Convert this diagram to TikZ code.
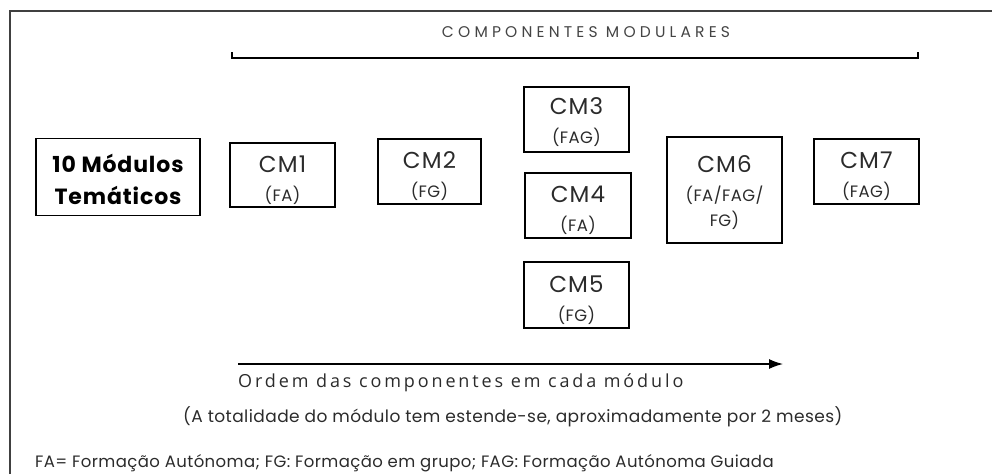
\documentclass[tikz,border=0pt]{standalone}
\usepackage{fontspec}
\setmainfont{Poppins}
\newfontfamily\orderfont[LetterSpace=16]{Open Sans}
\newfontfamily\titlefont[LetterSpace=27]{Poppins}
\newfontfamily\cmfont[LetterSpace=5]{Poppins}
\newfontfamily\modfont[LetterSpace=4]{Poppins}
\newfontfamily\notefont[LetterSpace=2.5]{Poppins}
\usetikzlibrary{arrows.meta}

\definecolor{inkgray}{HTML}{2B2B2B}
\definecolor{titlegray}{HTML}{444444}

\tikzset{
  cmbox/.style={draw, line width=1.3pt, align=center, inner sep=0pt,
    text=inkgray, font=\notefont\fontsize{16.5}{25}\selectfont},
  modbox/.style={draw, line width=1.3pt, align=center, inner sep=0pt,
    font=\modfont\bfseries\fontsize{22}{32}\selectfont},
  note/.style={text=inkgray, inner sep=0pt, anchor=west}
}

\newcommand{\cmlabel}[3][27pt]{{\cmfont\fontsize{23}{23}\selectfont\rule{0pt}{#1}#2}\\[4pt]#3}

\begin{document}
\begin{tikzpicture}[x=1pt,y=-1pt]
\useasboundingbox (0,0) rectangle (992,474);

% Frame
\draw[line width=2pt, black!75] (10,474) -- (10,11) -- (992,11);

% Bracket over the components
\draw[line width=1.2pt] (232,52) -- (232,58) -- (918,58) -- (918,52);
\node[text=titlegray, inner sep=0pt, font=\titlefont\fontsize{15.5}{15.5}\selectfont] (title) at (586,32) {COMPONENTES MODULARES};

% Boxes
\node[modbox, minimum width=164, minimum height=77] (mod) at (118,177) {\rule{0pt}{23pt}10 Módulos\\Temáticos};
\node[cmbox, minimum width=105, minimum height=64] (cm1) at (282.5,175) {\cmlabel{CM1}{(FA)}};
\node[cmbox, minimum width=103, minimum height=65] (cm2) at (429.5,171.5) {\cmlabel{CM2}{(FG)}};
\node[cmbox, minimum width=105, minimum height=65] (cm3) at (576.5,119.5) {\cmlabel[23pt]{CM3}{(FAG)}};
\node[cmbox, minimum width=106, minimum height=65] (cm4) at (578,205.5) {\cmlabel{CM4}{(FA)}};
\node[cmbox, minimum width=105, minimum height=66] (cm5) at (576.5,295) {\cmlabel{CM5}{(FG)}};
\node[cmbox, minimum width=115, minimum height=106] (cm6) at (724.5,190) {\cmlabel[22pt]{CM6}{(FA/FAG/\\FG)}};
\node[cmbox, minimum width=105, minimum height=65] (cm7) at (866.5,171.5) {\cmlabel{CM7}{(FAG)}};

% Order arrow
\coordinate (ostart) at (238,364);
\coordinate (oend) at (783,364);
\draw[line width=1.3pt, -{Latex[length=14pt,width=10pt]}] (ostart) -- (oend);
\node[note, font=\orderfont\fontsize{18}{18}\selectfont] (order) at (238,383) {Ordem das componentes em cada módulo};

% Notes
\node[note, font=\notefont\fontsize{17}{17}\selectfont] (span) at (183,417) {(A totalidade do módulo tem estende-se, aproximadamente por 2 meses)};
\node[note, font=\notefont\fontsize{16.5}{16.5}\selectfont] (legend) at (35,463) {FA= Formação Autónoma; FG: Formação em grupo; FAG: Formação Autónoma Guiada};

\end{tikzpicture}
\end{document}
